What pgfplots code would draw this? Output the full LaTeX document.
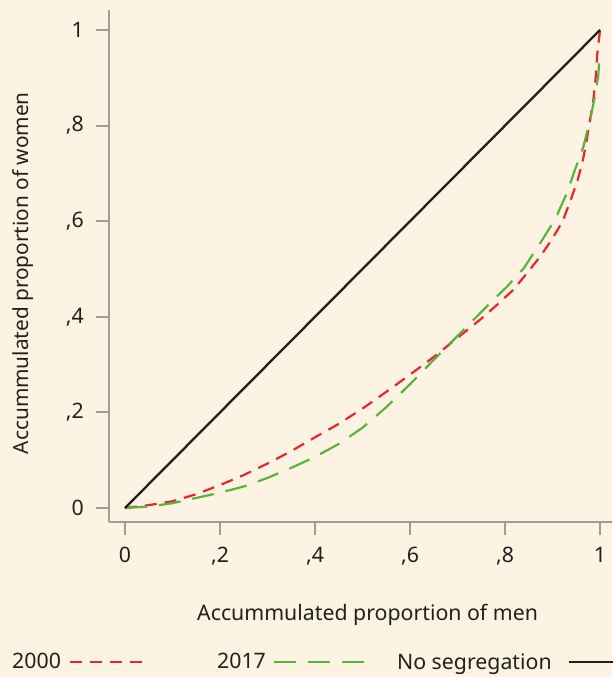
\documentclass[border=0pt]{standalone}
\usepackage{pgfplots}
\pgfplotsset{compat=1.18}
\usepackage{fontspec}
\setmainfont{Noto Sans}
\usetikzlibrary{backgrounds}
\definecolor{bg}{HTML}{FDF3E3}
\definecolor{cred}{HTML}{E8262B}
\definecolor{cgreen}{HTML}{5BB33E}
\definecolor{cblack}{HTML}{231F20}
\definecolor{cgray}{HTML}{A09C97}
\definecolor{ctext}{HTML}{231F20}
\newcommand{\tf}{\fontsize{21.3bp}{25bp}\selectfont}
\pgfplotsset{
  legR/.style={legend image code/.code={\draw[##1] (0bp,0bp) -- (78bp,0bp);}},
  legG/.style={legend image code/.code={\draw[##1] (0bp,0bp) -- (92bp,0bp);}},
  legB/.style={legend image code/.code={\draw[##1] (0bp,0bp) -- (90bp,0bp);}},
}
\begin{document}
\begin{tikzpicture}
\begin{axis}[
  scale only axis,
  width=503bp, height=512bp,
  xmin=-0.03368, xmax=1.02526,
  ymin=-0.02929, ymax=1.04184,
  axis x line=bottom, axis y line=left,
  axis line style={-, cgray, line width=2bp},
  tick style={cgray, line width=2bp},
  tick align=outside,
  major tick length=13bp,
  xtick={0,0.2,0.4,0.6,0.8,1},
  ytick={0,0.2,0.4,0.6,0.8,1},
  xticklabels={0,{,2},{,4},{,6},{,8},1},
  yticklabels={0,{,2},{,4},{,6},{,8},1},
  tick label style={font=\tf, text=ctext},
  xticklabel style={inner sep=0pt, yshift=-12bp},
  yticklabel style={inner sep=0pt, xshift=-12bp},
  xlabel={Accummulated proportion of men},
  ylabel={Accummulated proportion of women},
  label style={font=\tf, text=ctext},
  x label style={at={(rel axis cs:0.514,-0.1914)}, anchor=base},
  y label style={at={(rel axis cs:-0.170,0.486)}, anchor=center, font=\fontsize{20.8bp}{25bp}\selectfont},
  legend columns=3,
  legend plot pos=right,
  legend cell align=left,
  legend style={draw=none, fill=none, inner sep=0pt, font=\tf, text=ctext,
    at={(rel axis cs:-0.1928,-0.2734)}, anchor=west,
    nodes={inner sep=0pt}},
]
\addplot[cred, line width=2.2bp, dash pattern=on 12bp off 8bp, legR]
  coordinates {
  (0,0) (0.05,0.006) (0.10,0.014) (0.15,0.029) (0.20,0.048) (0.25,0.069)
  (0.30,0.093) (0.35,0.119) (0.40,0.148) (0.45,0.176) (0.50,0.208)
  (0.55,0.243) (0.60,0.279) (0.65,0.316) (0.70,0.356) (0.75,0.396)
  (0.783,0.425) (0.817,0.456) (0.846,0.491) (0.874,0.526) (0.898,0.561)
  (0.921,0.599) (0.938,0.644) (0.953,0.686) (0.964,0.728) (0.972,0.770)
  (0.979,0.812) (0.986,0.854) (0.991,0.902) (0.994,0.948) (1.0,1.0)
  };
\addlegendentry{2000\hspace*{8bp}}
\addplot[cgreen, line width=2.2bp, dash pattern=on 22bp off 12bp, legG]
  coordinates {
  (0,0) (0.05,0.003) (0.10,0.010) (0.15,0.021) (0.20,0.032) (0.25,0.045)
  (0.30,0.063) (0.35,0.084) (0.40,0.107) (0.45,0.134) (0.50,0.168)
  (0.55,0.211) (0.60,0.259) (0.65,0.310) (0.70,0.360) (0.75,0.410)
  (0.768,0.428) (0.804,0.463) (0.839,0.501) (0.874,0.554) (0.905,0.603)
  (0.930,0.658) (0.947,0.707) (0.965,0.756) (0.979,0.812) (0.989,0.860)
  (0.996,0.902) (1.0,0.955)
  };
\addlegendentry{\hspace*{68bp}2017\hspace*{7bp}}
\addplot[cblack, line width=2.3bp, legB]
  coordinates {(0,0) (1,1)};
\addlegendentry{\hspace*{30bp}No segregation\hspace*{16bp}}
\coordinate (bbll) at (rel axis cs:-0.2167,-0.3027);
\coordinate (bbur) at (rel axis cs:1,1.0195);
\end{axis}
\pgfresetboundingbox
\path[use as bounding box] (bbll) rectangle (bbur);
\begin{scope}[on background layer]
\fill[bg] (bbll) rectangle (bbur);
\end{scope}
\end{tikzpicture}
\end{document}
